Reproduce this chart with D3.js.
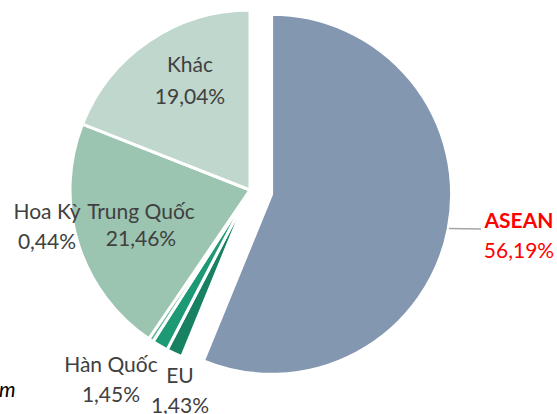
<!DOCTYPE html>
<html>
<head>
<meta charset="utf-8">
<script src="https://cdn.jsdelivr.net/npm/d3@7"></script>
<style>
  html, body { margin: 0; padding: 0; background: #fff; }
  svg { display: block; }
  text { font-family: Lato, "Open Sans", sans-serif; }
</style>
</head>
<body>
<div id="chart"></div>
<script>
// shares of each partner, clockwise from 12 o'clock
var categories = ['ASEAN', 'EU', 'Hàn Quốc', 'Hoa Kỳ', 'Trung Quốc', 'Khác'];
var shares = [56.19, 1.43, 1.45, 0.44, 21.46, 19.04];
var colours = ['#8497b0', '#178161', '#1d9a75', '#5db892', '#9bc4b1', '#bfd7cd'];

var W = 557, H = 414,
    cx = 250, cy = 190,
    R = 180,
    explode = 22;   // ASEAN pulled out

var vi = d3.formatLocale({ decimal: ',', thousands: '.', grouping: [3], currency: ['', ''] });
var pct = function(v) { return vi.format('.2f')(v) + '%'; };

var data = categories.map(function(c, i) {
  return { name: c, value: shares[i], colour: colours[i] };
});

var svg = d3.select('#chart').append('svg')
    .attr('width', W)
    .attr('height', H);

var pie = d3.pie().sort(null).value(function(d) { return d.value; });
var arc = d3.arc().innerRadius(0).outerRadius(R);
var arcs = pie(data);

var g = svg.append('g').attr('transform', 'translate(' + cx + ',' + cy + ')');

function offset(a, r) {
  var m = (a.startAngle + a.endAngle) / 2;
  return [Math.sin(m) * r, -Math.cos(m) * r];
}

g.selectAll('path.slice')
  .data(arcs)
  .enter().append('path')
    .attr('class', 'slice')
    .attr('d', arc)
    .attr('fill', function(d) { return d.data.colour; })
    .attr('stroke', '#fff')
    .attr('stroke-width', 3)
    .attr('stroke-linejoin', 'round')
    .attr('transform', function(d) {
      var o = d.data.name === 'ASEAN' ? offset(d, explode) : [0, 0];
      return 'translate(' + o[0] + ',' + o[1] + ')';
    });

// label anchors (centre x, first baseline), placed as in the original
var labelAt = {
  'ASEAN':      { x: 519, y: 228, colour: '#ff0000', bold: true },
  'EU':         { x: 180, y: 383 },
  'Hàn Quốc':   { x: 111, y: 372 },
  'Hoa Kỳ':     { x: 47,  y: 219 },
  'Trung Quốc': { x: 141, y: 219, gap: 27 },
  'Khác':       { x: 190, y: 72, gap: 32 }
};

var labels = svg.append('g');
arcs.forEach(function(d) {
  var p = labelAt[d.data.name];
  var t = labels.append('text')
      .attr('x', p.x)
      .attr('y', p.y)
      .attr('text-anchor', 'middle')
      .attr('fill', p.colour || '#404040')
      .style('font-size', '21px');
  t.append('tspan')
      .attr('x', p.x)
      .style('font-weight', p.bold ? 'bold' : 'normal')
      .text(d.data.name);
  t.append('tspan')
      .attr('x', p.x)
      .attr('dy', p.gap || 29.5)
      .text(pct(d.data.value));
});

// leader line for ASEAN
svg.append('line')
    .attr('x1', 449)
    .attr('y1', 228.5)
    .attr('x2', 481)
    .attr('y2', 229)
    .attr('stroke', '#a6a6a6')
    .attr('stroke-width', 1.3);

// clipped leftover of a caption at the lower left
svg.append('text')
    .attr('x', -1)
    .attr('y', 397)
    .style('font-size', '21px')
    .style('font-style', 'italic')
    .attr('fill', '#000')
    .text('m');
</script>
</body>
</html>
